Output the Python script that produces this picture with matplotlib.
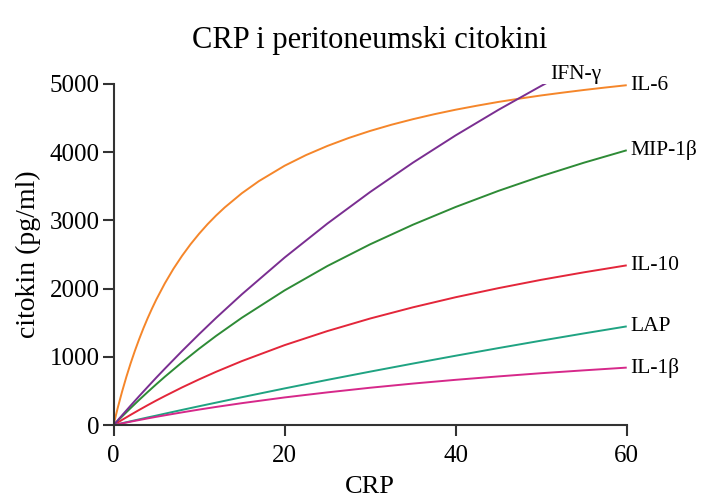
import numpy as np
import matplotlib
matplotlib.use("Agg")
import matplotlib.pyplot as plt

plt.rcParams['font.family'] = ['Liberation Serif', 'DejaVu Serif']

# CRP values (x) and cytokine curves (pg/ml)
crp = [0, 1, 2, 3, 4, 5, 6, 8, 10, 12, 15, 20, 25, 30, 35, 40, 45, 50, 55, 60]

# IL-6 bends sharply near zero, so it was read at more points
crp_il6 = [0, 0.5, 1, 1.5, 2, 2.5, 3, 3.5, 4, 4.5, 5, 6, 7, 8, 9, 10, 11, 12, 13,
           15, 17, 20, 22.5, 25, 27.5, 30, 32.5, 35, 37.5, 40, 42.5, 45, 47.5,
           50, 52.5, 55, 57.5, 60]
il6 = [0, 256, 490, 706, 905, 1089, 1260, 1420, 1569, 1708, 1839, 2077, 2289,
       2478, 2649, 2803, 2944, 3072, 3189, 3397, 3575, 3800, 3956, 4090, 4207,
       4310, 4401, 4482, 4555, 4621, 4680, 4735, 4784, 4830, 4871, 4910, 4946,
       4980]
mip1b = [0, 127, 250, 370, 486, 599, 709, 919, 1119, 1308, 1573, 1974,
         2331, 2649, 2936, 3196, 3432, 3647, 3845, 4027]
il10 = [0, 77, 151, 223, 293, 361, 426, 552, 670, 782, 938, 1172,
        1378, 1562, 1726, 1874, 2007, 2129, 2239, 2341]
lap = [0, 28, 57, 85, 113, 140, 168, 223, 277, 330, 409, 538,
       663, 784, 902, 1017, 1129, 1238, 1344, 1447]
il1b = [0, 26, 51, 75, 99, 122, 144, 187, 228, 267, 322, 406,
        480, 548, 609, 664, 714, 761, 803, 843]

# IFN-gamma stops before the end of the axis
crp_ifn = [0, 1, 2, 3, 4, 5, 6, 8, 10, 12, 15, 20, 25, 30, 35, 40, 45, 50, 50.6]
ifng = [0, 144, 286, 425, 561, 696, 827, 1084, 1332, 1572, 1916, 2455,
        2953, 3415, 3845, 4245, 4619, 4970, 5010]

series = [
    ("IL-6", crp_il6, il6, "#F5862A"),
    ("MIP-1β", crp, mip1b, "#2E8B36"),
    ("IL-10", crp, il10, "#E3263A"),
    ("LAP", crp, lap, "#1FA382"),
    ("IL-1β", crp, il1b, "#D6288A"),
    ("IFN-γ", crp_ifn, ifng, "#7A2E91"),
]

fig = plt.figure(figsize=(7.05, 4.99), dpi=100)
ax = fig.add_axes([0.161, 0.148, 0.728, 0.684])

for name, xs, ys, col in series:
    ax.plot(xs, ys, color=col, lw=1.4, solid_capstyle='butt')
    if name == "IFN-γ":
        ax.text(xs[-1] + 0.4, ys[-1] + 130, name, fontsize=15.5, ha='left', va='center')
    else:
        ax.text(xs[-1] + 0.4, ys[-1], name, fontsize=15.5, ha='left', va='center')

ax.set_xlim(0, 60)
ax.set_ylim(0, 5000)
ax.set_xticks([0, 20, 40, 60])
ax.set_yticks([0, 1000, 2000, 3000, 4000, 5000])
ax.spines['top'].set_visible(False)
ax.spines['right'].set_visible(False)
for s in ['left', 'bottom']:
    ax.spines[s].set_color('#333333')
    ax.spines[s].set_linewidth(1.5)
ax.tick_params(colors='#333333', width=1.5, length=8, labelsize=18, labelcolor='black')
ax.tick_params(axis='x', pad=6)
ax.tick_params(axis='y', pad=2)

ax.set_xlabel("CRP", fontsize=19, labelpad=7)
ax.set_ylabel("citokin (pg/ml)", fontsize=20, labelpad=6)
ax.set_title("CRP i peritoneumski citokini", fontsize=22, pad=26)

fig.savefig("out.png", dpi=100)
